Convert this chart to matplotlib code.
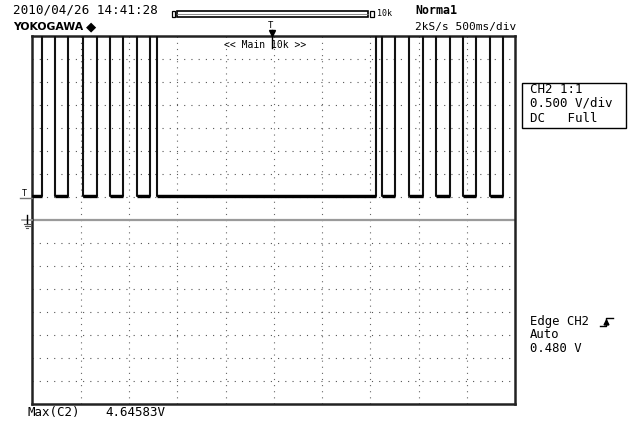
import matplotlib
matplotlib.use("Agg")
from matplotlib import pyplot as plt
from matplotlib.lines import Line2D
from matplotlib.patches import Rectangle

# Scope capture: CH2, 0.5 V/div, 500 ms/div, upper window shows the trace

W, H = 629, 421

# edge times (s) of the pulse train, signal starts low
edge_times = [0.100, 0.234, 0.369, 0.524, 0.669, 0.803, 0.940, 1.089, 1.223, 1.291,
              3.558, 3.620, 3.757, 3.902, 4.046, 4.184, 4.322, 4.459, 4.597, 4.736, 4.873]
low_level = 0.52     # V
high_level = 4.65    # V (clipped at top of window)
t_span = 5.0         # 10 div * 500 ms
v_span = 4.0         # 8 div * 0.5 V above / below ground

header_left = "2010/04/26 14:41:28"
brand = "YOKOGAWA"
mode = "Norma1"
rate = "2kS/s 500ms/div"
zoom_label = "<< Main 10k >>"
ch_box = ["CH2 1:1", "0.500 V/div", "DC   Full"]
trig_box = ["Edge CH2", "Auto", "0.480 V"]
meas_name = "Max(C2)"
meas_value = "4.64583V"

MONO = "DejaVu Sans Mono"


def px(x, y):
    return x / W, 1 - y / H


fig = plt.figure(figsize=(W / 100, H / 100), dpi=100)
fig.patch.set_facecolor("white")
ax = fig.add_axes([32.3 / W, 1 - 404 / H, 483 / W, 368 / H])
ax.set_xlim(0, t_span)
ax.set_ylim(-v_span, v_span)
ax.set_xticks([])
ax.set_yticks([])
for s in ax.spines.values():
    s.set_linewidth(1.8)
    s.set_color("#222222")

# dotted graticule
for i in range(1, 10):
    ax.axvline(i * t_span / 10, color="#666666", lw=0.8, ls=(0, (1, 4.5)), zorder=1)
for j in range(1, 16):
    yv = -v_span + j * 0.5
    if abs(yv) < 1e-9:
        continue
    ax.axhline(yv, color="#555555", lw=0.8, ls=(0, (1, 5.5)), zorder=1)

# ground line
ax.axhline(0, color="#9a9a9a", lw=1.6, zorder=2)

# trace
times = [0.0] + edge_times + [t_span]
levels = [low_level if i % 2 == 0 else high_level for i in range(len(times) - 1)]
levels.append(levels[-1])
ax.step(times, levels, where="post", color="#111111", lw=1.5, zorder=3)
starts = [times[i] for i in range(0, len(times) - 1, 2)]
ends = [times[i + 1] for i in range(0, len(times) - 1, 2)]
ax.hlines([low_level] * len(starts), starts, ends, color="black", lw=2.4, zorder=4)

# header texts
fig.text(*px(13, 10), header_left, family=MONO, fontsize=9.1, va="center", ha="left")
fig.text(*px(13, 27.5), brand, family="DejaVu Sans", weight="bold", fontsize=7.8,
         va="center", ha="left")
fig.text(*px(86, 27), "\u25c6", family="DejaVu Sans", fontsize=9.5, va="center", ha="left")
fig.text(*px(415, 11), mode, family=MONO, weight="bold", fontsize=8.4, va="center", ha="left")
fig.text(*px(415, 27), rate, family=MONO, fontsize=8.0, va="center", ha="left")

# record-length bar
fig.add_artist(Rectangle(px(172, 17), 3 / W, 6 / H, fill=False, lw=0.9, ec="black",
                         transform=fig.transFigure))
fig.add_artist(Rectangle(px(177, 17), 191 / W, 6 / H, fill=False, lw=1.2, ec="black",
                         transform=fig.transFigure))
fig.add_artist(Line2D([px(177, 0)[0], px(368, 0)[0]], [px(0, 14)[1]] * 2, lw=0.6,
                      color="#777777", transform=fig.transFigure))
fig.add_artist(Rectangle(px(370, 17), 4 / W, 6 / H, fill=False, lw=0.9, ec="black",
                         transform=fig.transFigure))
fig.text(*px(377, 13.5), "10k", family=MONO, fontsize=6, va="center", ha="left")

# trigger position marker
fig.text(*px(270.5, 26), "T", family=MONO, fontsize=6.5, va="center", ha="center")
fig.add_artist(Line2D([px(272, 0)[0]] * 2, [px(0, 30)[1], px(0, 48)[1]], lw=1.0,
                      color="black", transform=fig.transFigure))
fig.add_artist(Line2D([px(272, 0)[0]], [px(0, 33)[1]], marker="v", ms=4, color="black",
                      transform=fig.transFigure))
fig.text(*px(224, 44.5), zoom_label, family=MONO, fontsize=7, va="center", ha="left")

# trigger level marker (left)
fig.text(*px(24, 193), "T", family=MONO, fontsize=6, va="center", ha="center")
fig.add_artist(Line2D([px(20, 0)[0], px(32, 0)[0]], [px(0, 197.7)[1]] * 2, lw=1.0,
                      color="#777777", transform=fig.transFigure))

# ground marker
gx = 27
fig.add_artist(Line2D([px(22, 0)[0], px(32, 0)[0]], [px(0, 220)[1]] * 2, lw=1.2,
                      color="#9a9a9a", transform=fig.transFigure))
fig.add_artist(Line2D([px(gx, 0)[0]] * 2, [px(0, 215)[1], px(0, 224)[1]], lw=1.0,
                      color="black", transform=fig.transFigure))
for yy, half in [(224, 3.5), (226, 2.5), (228, 1.2)]:
    fig.add_artist(Line2D([px(gx - half, 0)[0], px(gx + half, 0)[0]], [px(0, yy)[1]] * 2,
                          lw=0.8, color="#555555", transform=fig.transFigure))

# channel box
fig.add_artist(Rectangle(px(522, 128), 104 / W, 45 / H, fill=False, lw=1.0, ec="black",
                         transform=fig.transFigure))
for txt, yy in zip(ch_box, [89.5, 103.5, 119]):
    fig.text(*px(530, yy), txt, family=MONO, fontsize=9.0, va="center", ha="left")

# trigger settings
for txt, yy in zip(trig_box, [321, 334.5, 348]):
    fig.text(*px(530, yy), txt, family=MONO, fontsize=8.8, va="center", ha="left")
ex = [600, 606, 606, 613]
ey = [326, 326, 318, 318]
fig.add_artist(Line2D([px(x, 0)[0] for x in ex], [px(0, y)[1] for y in ey], lw=1.0,
                      color="black", transform=fig.transFigure))
fig.add_artist(Line2D([px(606, 0)[0]], [px(0, 322)[1]], marker="^", ms=3.5, color="black",
                      transform=fig.transFigure))

# measurement
fig.text(*px(28, 412.5), meas_name, family=MONO, fontsize=9.0, va="center", ha="left")
fig.text(*px(105, 412.5), meas_value, family=MONO, fontsize=9.0, va="center", ha="left")

fig.savefig("out.png", dpi=100, facecolor="white")
